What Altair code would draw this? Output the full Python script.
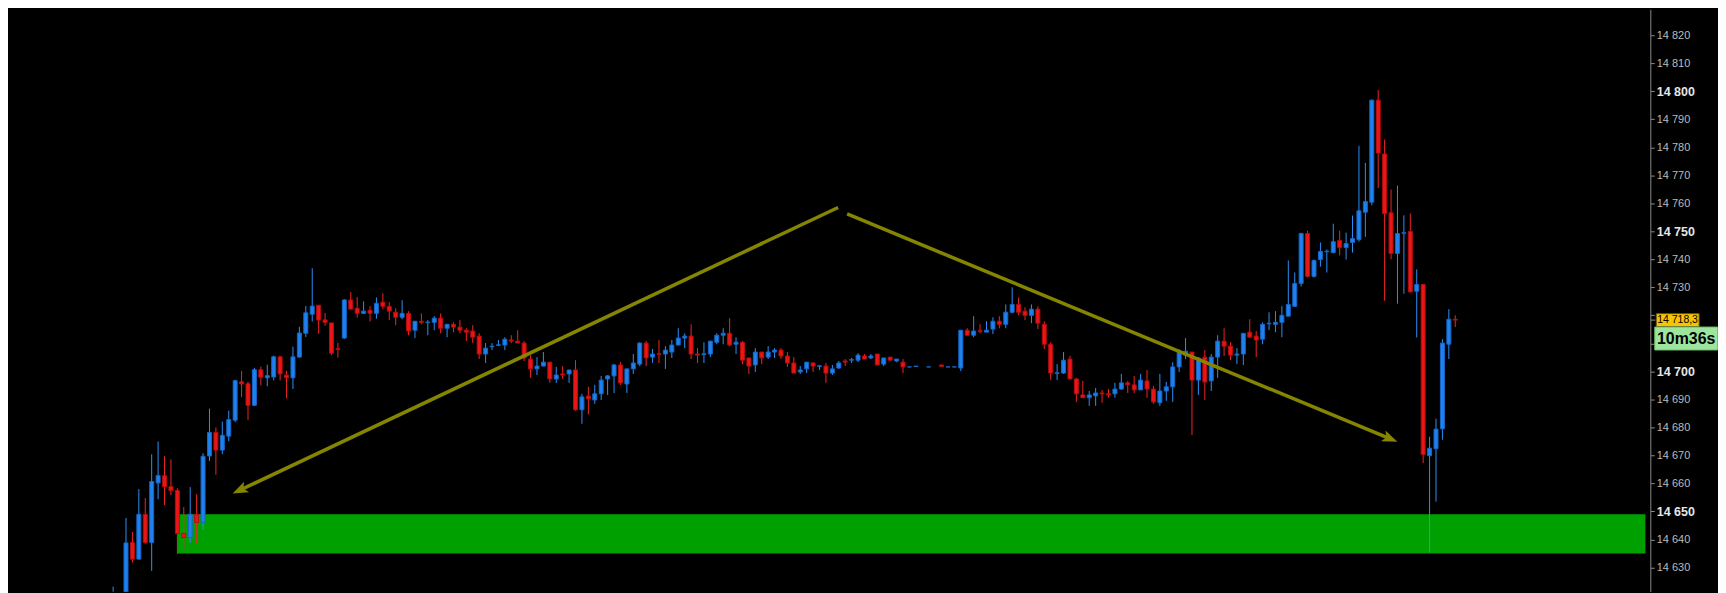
import math

import altair as alt
import pandas as pd

# candle values, one entry per bar (None = no bar drawn)
bar_open = [
    14605, 14600, 14615, 14639.0, 14633.0, 14649.0, 14638.9, 14660.2, 14662.8, 14658.9,
    14657.5, 14642.2, 14640.7, 14649.0, 14646.1, 14669.8, 14678.2, 14671.9, 14676.9, 14682.6,
    14696.3, 14695.6, 14687.9, 14700.6, 14697.7, 14698.0, 14705.2, 14698.7, 14697.7, 14705.1,
    14713.6, 14720.4, 14723.6, 14718.4, 14717.3, 14708.1, 14711.9, 14725.5, 14722.5, 14720.7,
    14721.8, 14720.7, 14724.7, 14723.2, 14721.1, 14719.3, 14720.7, 14714.7, 14717.9, 14717.4,
    14717.5, 14719.0, 14715.4, 14716.8, 14715.8, 14714.7, 14714.4, 14712.6, 14706.2, 14708.8,
    14709.3, 14709.4, 14711.2, 14710.8, 14710.1, 14704.4, 14700.9, 14701.9, 14703.3, 14697.3,
    14699.1, 14699.1, 14700.5, 14686.3, 14691.2, 14689.8, 14692.0, 14697.3, 14698.4, 14702.3,
    14695.5, 14700.9, 14702.6, 14710.1, 14705.1, 14706.3, 14706.2, 14706.9, 14709.4, 14711.9,
    14712.6, 14706.2, 14706.0, 14706.2, 14710.4, 14712.9, 14713.6, 14709.7, 14710.4, 14704.8,
    14702.3, 14706.9, 14705.1, 14706.9, 14707.6, 14705.5, 14703.0, 14699.8, 14700.9, 14703.0,
    14701.8, 14701.9, 14699.4, 14701.2, 14703.7, 14704.0, 14704.0, 14705.5, 14704.8, 14706.2,
    14702.6, 14705.1, 14703.7, 14703.3, 14701.6, 14701.7, None, 14701.6, None, 14702.3,
    14701.6, 14701.6, 14701.2, 14714.7, 14712.9, 14714.5, 14714.0, 14715.1, 14717.9, 14716.8,
    14721.1, 14723.9, 14721.5, 14720.0, 14722.2, 14716.8, 14709.7, 14699.3, 14699.4, 14704.4,
    14697.3, 14691.6, 14690.6, 14691.3, 14692.3, 14692.0, 14692.0, 14693.7, 14695.9, 14695.2,
    14693.4, 14696.6, 14693.7, 14688.8, 14693.0, 14694.5, 14701.6, 14705.8, 14706.9, 14696.9,
    14705.1, 14696.6, 14705.1, 14710.8, 14709.0, 14705.8, 14706.2, 14714.0, 14712.6, 14711.5,
    14717.0, 14716.8, 14717.5, 14719.7, 14723.2, 14731.4, 14749.2, 14733.9, 14739.9, 14742.7,
    14742.4, 14746.7, 14744.2, 14746.0, 14747.0, 14756.8, 14760.4, 14796.8, 14777.6, 14756.6,
    14742.1, 14749.3, 14749.9, 14728.6, 14731.0, 14669.9, 14672.4, 14679.5, 14709.7, 14718.6,
]
bar_high = [
    14623.2, 14618, 14647.7, 14642.7, 14658.0, 14654.8, 14670.4, 14675.0, 14669.7, 14668.6,
    14658.3, 14651.6, 14658.7, 14656.2, 14670.8, 14686.7, 14680.0, 14682.1, 14686.0, 14697.0,
    14700.2, 14696.3, 14701.3, 14701.7, 14702.4, 14705.6, 14705.6, 14700.2, 14708.8, 14715.9,
    14723.3, 14736.8, 14723.6, 14720.9, 14717.3, 14710.2, 14725.8, 14728.3, 14726.5, 14725.0,
    14723.3, 14726.4, 14727.9, 14724.7, 14722.5, 14725.4, 14721.5, 14717.9, 14720.7, 14718.3,
    14719.7, 14720.7, 14716.8, 14717.5, 14718.3, 14715.4, 14716.5, 14713.6, 14710.1, 14710.1,
    14711.2, 14712.2, 14712.9, 14714.7, 14710.8, 14705.8, 14705.1, 14706.9, 14703.3, 14701.6,
    14701.9, 14700.5, 14704.0, 14692.0, 14694.5, 14695.2, 14698.4, 14698.7, 14702.6, 14703.3,
    14700.9, 14706.2, 14710.4, 14710.8, 14708.0, 14711.2, 14709.0, 14711.2, 14715.4, 14713.6,
    14716.8, 14708.3, 14710.4, 14710.8, 14713.6, 14715.4, 14719.0, 14712.2, 14710.8, 14704.8,
    14708.3, 14706.9, 14709.0, 14708.3, 14708.3, 14706.9, 14705.1, 14701.9, 14703.3, 14703.3,
    14702.3, 14703.0, 14702.3, 14703.7, 14704.4, 14704.8, 14706.5, 14706.2, 14706.2, 14706.2,
    14704.8, 14705.1, 14704.4, 14704.4, 14701.6, 14701.9, None, 14701.6, None, 14702.3,
    14701.6, 14701.6, 14714.7, 14715.4, 14719.7, 14716.8, 14717.9, 14719.3, 14719.7, 14723.9,
    14730.0, 14726.4, 14722.9, 14723.9, 14723.2, 14717.9, 14710.4, 14702.6, 14706.9, 14705.5,
    14697.7, 14696.6, 14693.0, 14694.1, 14693.4, 14693.7, 14695.9, 14699.1, 14696.6, 14698.4,
    14699.1, 14700.5, 14694.8, 14699.1, 14696.2, 14703.3, 14707.9, 14711.9, 14706.9, 14705.1,
    14707.6, 14706.2, 14712.9, 14715.4, 14710.4, 14708.3, 14713.6, 14718.6, 14714.4, 14717.5,
    14721.1, 14721.5, 14723.3, 14739.6, 14735.3, 14749.5, 14750.2, 14739.9, 14746.0, 14743.5,
    14752.7, 14750.2, 14749.5, 14755.6, 14780.5, 14774.4, 14797.0, 14800.4, 14782.7, 14764.9,
    14766.3, 14755.7, 14756.4, 14736.4, 14731.0, 14676.7, 14683.1, 14711.5, 14722.2, 14720.0,
]
bar_low = [
    14600, 14596, 14612, 14631.8, 14633.0, 14638.5, 14628.8, 14654.4, 14652.3, 14655.8,
    14634.9, 14636.7, 14638.8, 14638.5, 14643.4, 14668.0, 14663.1, 14670.5, 14675.1, 14681.9,
    14690.8, 14682.6, 14687.6, 14695.0, 14694.7, 14696.8, 14696.8, 14690.4, 14693.7, 14704.9,
    14712.3, 14717.8, 14713.5, 14716.3, 14705.8, 14704.9, 14711.6, 14722.2, 14719.2, 14720.7,
    14717.8, 14718.8, 14722.2, 14718.3, 14716.5, 14718.6, 14712.9, 14711.9, 14716.8, 14712.9,
    14714.7, 14713.6, 14712.2, 14714.0, 14713.6, 14710.8, 14710.1, 14704.4, 14703.0, 14707.6,
    14709.0, 14707.6, 14710.1, 14710.1, 14703.7, 14697.7, 14698.7, 14701.9, 14695.9, 14695.9,
    14697.3, 14695.9, 14685.9, 14681.3, 14684.7, 14688.4, 14689.8, 14691.6, 14692.3, 14695.2,
    14692.3, 14699.1, 14701.9, 14701.9, 14703.0, 14703.0, 14700.9, 14704.8, 14709.4, 14708.3,
    14704.4, 14703.0, 14703.0, 14705.1, 14709.7, 14709.7, 14709.0, 14706.2, 14702.6, 14699.1,
    14699.8, 14702.6, 14704.4, 14704.8, 14704.4, 14701.6, 14699.4, 14699.1, 14699.4, 14699.8,
    14700.5, 14695.9, 14698.7, 14700.9, 14701.9, 14703.0, 14703.3, 14704.4, 14704.4, 14702.3,
    14701.9, 14704.0, 14703.3, 14699.4, 14701.6, 14701.7, None, 14701.6, None, 14701.8,
    14701.6, 14701.6, 14700.1, 14712.9, 14712.2, 14713.6, 14714.0, 14713.3, 14715.4, 14715.4,
    14720.7, 14720.0, 14718.3, 14717.2, 14715.1, 14708.0, 14696.9, 14696.9, 14699.1, 14697.3,
    14689.1, 14690.6, 14687.7, 14687.7, 14688.8, 14690.6, 14690.6, 14693.4, 14692.3, 14692.3,
    14693.4, 14690.6, 14688.4, 14687.7, 14689.5, 14689.1, 14699.8, 14704.4, 14677.3, 14691.6,
    14689.8, 14693.0, 14697.7, 14705.5, 14704.0, 14702.6, 14702.3, 14712.2, 14705.1, 14709.7,
    14714.7, 14714.0, 14712.2, 14719.7, 14723.2, 14730.3, 14733.5, 14733.5, 14737.4, 14735.3,
    14742.1, 14741.4, 14739.9, 14742.4, 14746.3, 14748.0, 14759.3, 14765.4, 14725.2, 14740.0,
    14724.2, 14727.7, 14728.1, 14712.1, 14667.3, 14635.3, 14653.5, 14675.6, 14704.4, 14715.8,
]
bar_close = [
    14619, 14612, 14638.8, 14633.0, 14649.0, 14638.9, 14660.7, 14662.8, 14658.8, 14657.5,
    14642.1, 14640.7, 14649.0, 14646.1, 14669.7, 14678.2, 14671.9, 14677.2, 14682.8, 14696.7,
    14695.5, 14687.9, 14700.6, 14697.9, 14698.5, 14705.2, 14699.1, 14697.7, 14705.2, 14713.7,
    14720.9, 14723.3, 14718.3, 14717.5, 14706.5, 14707.8, 14725.5, 14722.2, 14720.7, 14721.5,
    14720.7, 14724.3, 14723.2, 14721.5, 14719.3, 14720.7, 14714.4, 14717.9, 14717.5, 14717.6,
    14719.0, 14715.4, 14716.8, 14715.8, 14714.7, 14714.0, 14712.2, 14706.2, 14708.3, 14709.0,
    14709.5, 14711.5, 14710.8, 14710.1, 14704.8, 14700.9, 14701.9, 14703.3, 14697.3, 14698.7,
    14698.7, 14700.5, 14686.3, 14690.9, 14690.2, 14692.0, 14696.9, 14698.4, 14702.3, 14695.9,
    14700.9, 14703.0, 14710.1, 14704.8, 14706.2, 14706.1, 14707.6, 14709.4, 14711.9, 14712.6,
    14706.2, 14705.8, 14706.3, 14710.8, 14712.9, 14713.6, 14709.4, 14710.4, 14704.0, 14701.9,
    14706.9, 14704.8, 14706.9, 14707.6, 14705.5, 14703.0, 14699.4, 14700.5, 14703.3, 14701.9,
    14702.0, 14699.4, 14700.9, 14703.0, 14703.3, 14704.2, 14705.8, 14704.4, 14705.5, 14702.3,
    14704.8, 14704.0, 14704.4, 14701.6, 14701.6, 14701.9, None, 14701.6, None, 14701.8,
    14701.6, 14701.6, 14714.7, 14712.9, 14714.4, 14714.3, 14714.7, 14717.9, 14716.8, 14721.1,
    14723.9, 14721.1, 14720.0, 14722.2, 14717.2, 14709.7, 14699.4, 14699.5, 14704.0, 14697.3,
    14692.0, 14690.6, 14691.6, 14692.3, 14692.0, 14691.6, 14693.7, 14695.9, 14695.2, 14693.4,
    14696.9, 14693.7, 14689.1, 14693.0, 14694.5, 14701.6, 14707.2, 14707.2, 14696.9, 14704.8,
    14696.2, 14705.1, 14710.8, 14709.0, 14705.8, 14706.2, 14713.6, 14712.2, 14711.2, 14716.8,
    14717.2, 14717.5, 14720.0, 14723.9, 14731.4, 14749.2, 14733.9, 14739.6, 14742.8, 14742.9,
    14746.3, 14744.2, 14745.6, 14747.4, 14757.3, 14760.6, 14796.8, 14777.9, 14756.3, 14742.1,
    14749.2, 14749.5, 14728.4, 14731.0, 14670.3, 14672.6, 14679.4, 14710.1, 14718.6, 14718.3,
]

# support zone (price band) and the bar where it starts
zone_low = 14635
zone_high = 14649
zone_start_bar = 10

# hand-drawn arrows: start and tip, in (bar, price)
arrow_from_bar = [112.9, 114.3]
arrow_from_price = [14758.5, 14756.2]
arrow_to_bar = [18.6, 200.0]
arrow_to_price = [14656.4, 14674.9]

last_price = 14718.3
timer_text = "10m36s"
price_ticks = list(range(14620, 14840, 10))

x_domain = [-15.6, 238.6]
y_domain = [14621.4, 14829.2]
W, H = 1650, 585

BLUE = "#1f80ee"
RED = "#e81616"
OLIVE = "#858500"

candles = pd.DataFrame({
    "bar": list(range(len(bar_open))),
    "open": bar_open,
    "high": bar_high,
    "low": bar_low,
    "close": bar_close,
}).dropna()

zone = pd.DataFrame({
    "x0": [zone_start_bar], "x1": [x_domain[1]],
    "lo": [zone_low], "hi": [zone_high],
})

# arrow geometry: shorten the shaft a little so the head keeps its point
sx = W / (x_domain[1] - x_domain[0])
sy = H / (y_domain[1] - y_domain[0])
arrow_rows = []
for bx0, py0, bx1, py1 in zip(arrow_from_bar, arrow_from_price, arrow_to_bar, arrow_to_price):
    dx = (bx1 - bx0) * sx
    dy = -(py1 - py0) * sy
    length = math.hypot(dx, dy)
    f = 1 - 9 / length
    arrow_rows.append({
        "x0": bx0, "y0": py0,
        "x1": bx0 + (bx1 - bx0) * f, "y1": py0 + (py1 - py0) * f,
        "tx": bx1, "ty": py1,
        "angle": math.degrees(math.atan2(dx, -dy)) % 360,
    })
arrows = pd.DataFrame(arrow_rows)

tag = pd.DataFrame({
    "price": [last_price],
    "label": [f"{last_price:,.1f}".replace(",", " ").replace(".", ",")],
    "timer": [timer_text],
})

# axis labels that sit under the price tag / timer box are covered in the original
covered = [v for v in price_ticks if last_price - 11.5 <= v <= last_price + 3.3]
hide_test = " || ".join(f"datum.value === {v}" for v in covered) or "false"

xs = alt.Scale(domain=x_domain, nice=False, zero=False)
ys = alt.Scale(domain=y_domain, nice=False, zero=False)
yaxis = alt.Axis(
    orient="right",
    values=price_ticks,
    title=None,
    grid=False,
    domainColor="#8a8a8a",
    tickColor="#8a8a8a",
    tickSize=4,
    labelPadding=2,
    labelFont="Liberation Sans",
    labelAlign="left",
    labelExpr=f"({hide_test}) ? '' : replace(format(datum.value, ','), ',', ' ')",
    labelFontSize={"condition": {"test": "datum.value % 50 === 0", "value": 12.5}, "value": 11},
    labelFontWeight={"condition": {"test": "datum.value % 50 === 0", "value": "bold"}, "value": "normal"},
    labelColor={"condition": {"test": "datum.value % 50 === 0", "value": "#e6e6e6"}, "value": "#bcbcbc"},
)


def X(field):
    return alt.X(field, type="quantitative", scale=xs, axis=None)


def Y(field):
    return alt.Y(field, type="quantitative", scale=ys, axis=yaxis)


up = "datum.close >= datum.open"

zone_layer = alt.Chart(zone).mark_rect(color="#00a000", clip=True).encode(
    x=X("x0"), x2="x1", y=Y("lo"), y2="hi"
)

wicks = alt.Chart(candles).mark_rule(strokeWidth=1, clip=True).encode(
    x=X("bar"), y=Y("low"), y2="high",
    color=alt.condition(up, alt.value("#2d8ff5"), alt.value("#f02424")),
)

bodies = alt.Chart(candles).mark_bar(width=4, strokeWidth=1, clip=True).encode(
    x=X("bar"), y=Y("open"), y2="close",
    fill=alt.condition(up, alt.value(BLUE), alt.value(RED)),
    stroke=alt.condition(up, alt.value("#1466c8"), alt.value("#b80c0c")),
)

shafts = alt.Chart(arrows).mark_rule(strokeWidth=3.5, color=OLIVE).encode(
    x=X("x0"), y=Y("y0"), x2="x1", y2="y1"
)

heads = alt.Chart(arrows).mark_point(
    shape="M0,0L0.75,2L0,1.55L-0.75,2Z", size=240, filled=True, opacity=1, color=OLIVE
).encode(
    x=X("tx"), y=Y("ty"), angle=alt.Angle("angle:Q", scale=None)
)

tag_tick = alt.Chart(tag).mark_rule(color="#8a8a8a", clip=False).encode(
    x=alt.value(W), x2=alt.value(W + 5), y=Y("price")
)

tag_box = alt.Chart(tag).mark_rect(
    fill="#f6c400", stroke="#6b5a10", strokeWidth=1, yOffset=-6.5, y2Offset=6.5, clip=False
).encode(
    x=alt.value(W + 6), x2=alt.value(W + 49), y=Y("price"), y2="price"
)

tag_text = alt.Chart(tag).mark_text(
    align="left", baseline="middle", font="Liberation Sans", fontSize=10.5, color="#000000", clip=False
).encode(
    x=alt.value(W + 7), y=Y("price"), text="label:N"
)

timer_box = alt.Chart(tag).mark_rect(
    fill="#9de59d", stroke="#6fc46f", strokeWidth=1, yOffset=7, y2Offset=30, clip=False
).encode(
    x=alt.value(W + 4.5), x2=alt.value(W + 67.5), y=Y("price"), y2="price"
)

timer_text_layer = alt.Chart(tag).mark_text(
    align="center", baseline="middle", font="Liberation Sans", fontSize=16, fontWeight="bold",
    color="#000000", dy=18.5, clip=False
).encode(
    x=alt.value(W + 36), y=Y("price"), text="timer:N"
)

chart = alt.layer(
    zone_layer, wicks, bodies, shafts, heads,
    tag_tick, tag_box, tag_text, timer_box, timer_text_layer,
).properties(
    width=W,
    height=H,
    background="#000000",
    padding={"left": 0, "top": 0, "right": 68, "bottom": 0},
    autosize=alt.AutoSizeParams(type="none"),
).configure_view(
    strokeWidth=0
)

chart.save("out.html", embed_options={"renderer": "svg", "actions": False})
